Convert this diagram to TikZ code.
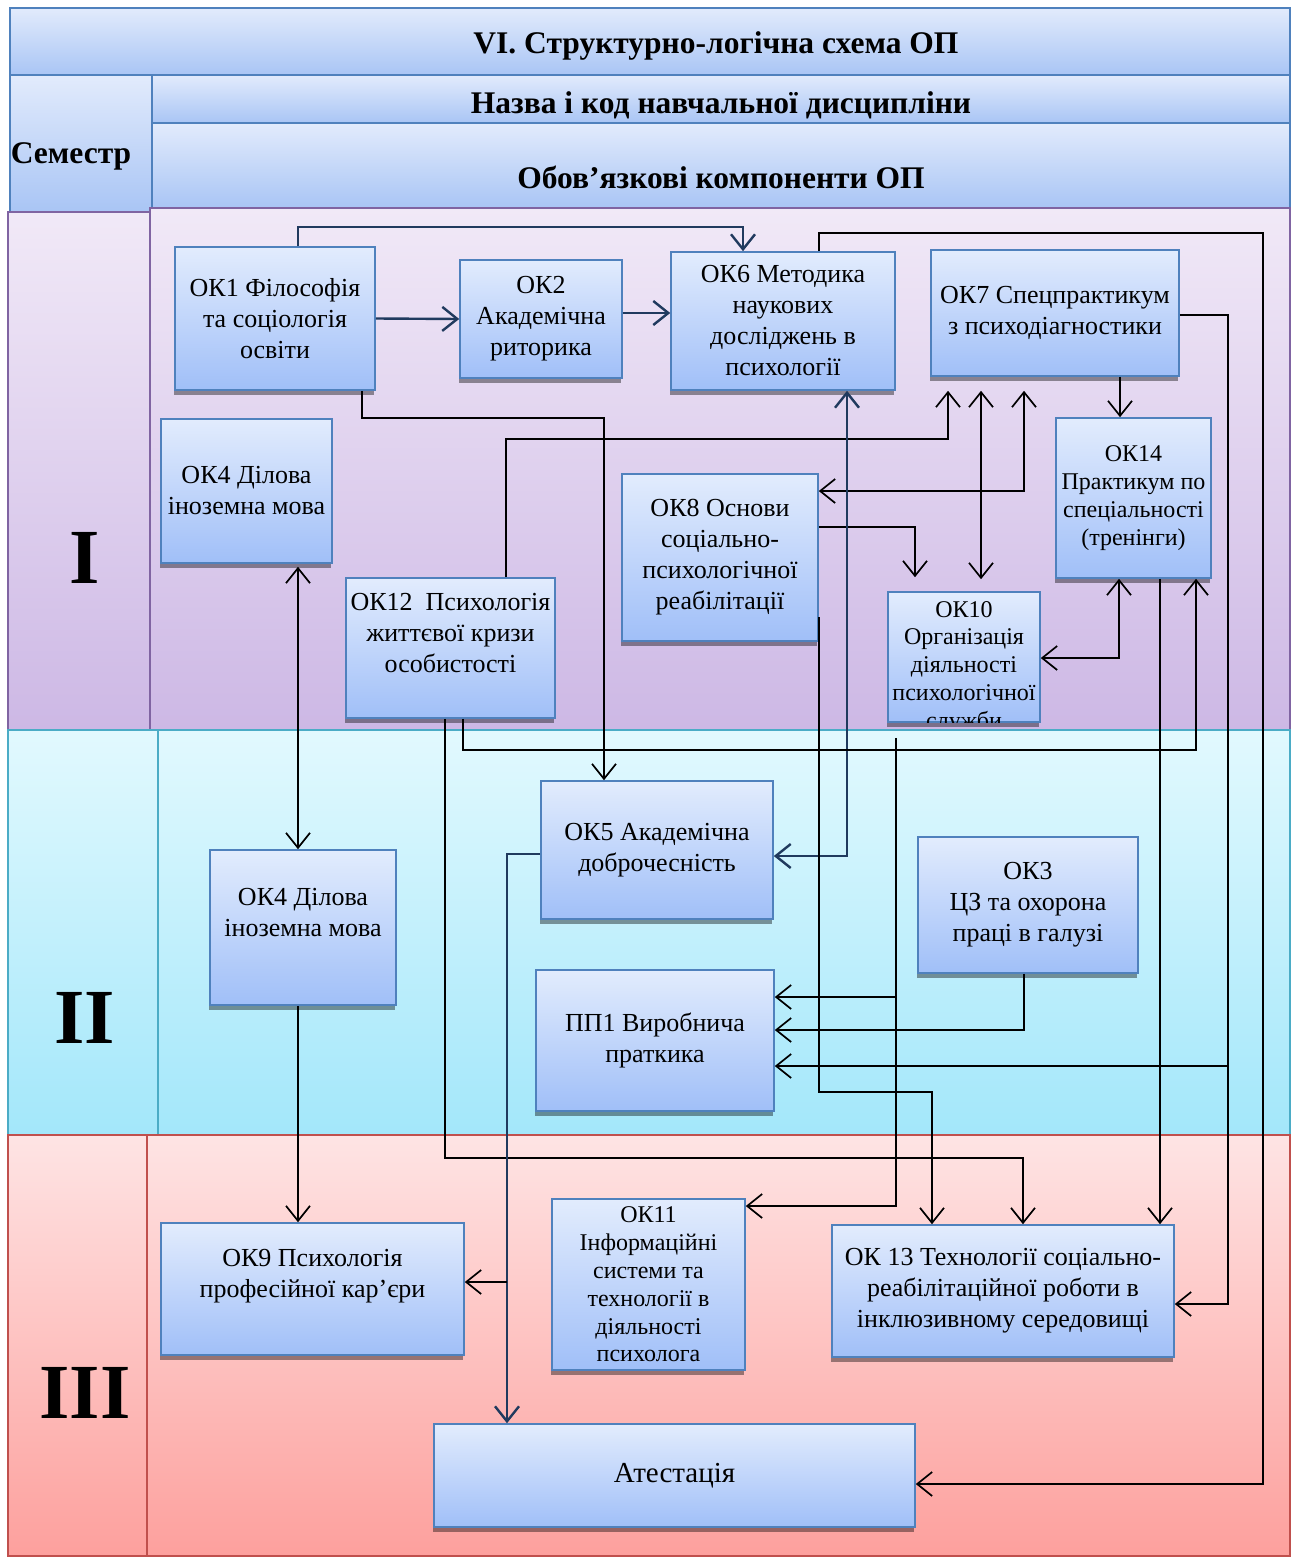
\documentclass[tikz,border=0pt]{standalone}
\usepackage{fontspec}
\setmainfont{Liberation Serif}
\usetikzlibrary{arrows.meta,shadows}
\definecolor{boxtop}{HTML}{E2ECFD}
\definecolor{boxbot}{HTML}{A0BFF8}
\definecolor{boxedge}{HTML}{4F81BD}
\definecolor{hdrtop}{HTML}{E2EBFC}
\definecolor{hdrbot}{HTML}{A9C5F5}
\definecolor{ptop}{HTML}{F1E9F7}
\definecolor{pbot}{HTML}{CDB8E5}
\definecolor{pedge}{HTML}{8064A2}
\definecolor{ctop}{HTML}{E2F9FE}
\definecolor{cbot}{HTML}{A3E7FA}
\definecolor{cedge}{HTML}{4BACC6}
\definecolor{rtop}{HTML}{FEE4E4}
\definecolor{rbot}{HTML}{FDA09D}
\definecolor{redge}{HTML}{C0504D}
\definecolor{navy}{HTML}{203A5E}
\newcommand\bx[6]{\node[box,minimum width=#4pt,minimum height=#5pt] (#1) at (#2,#3) {#6};}
\newcommand\sbx[6]{\node[box,smallfont,minimum width=#4pt,minimum height=#5pt] (#1) at (#2,#3) {#6};}
\begin{document}
\begin{tikzpicture}[x=1pt,y=-1pt,
  box/.style={draw=boxedge, line width=1.6pt, top color=boxtop, bottom color=boxbot,
    align=center, inner sep=2pt, font=\fontsize{26}{31}\selectfont,
    drop shadow={shadow xshift=-1pt, shadow yshift=-5pt, fill=black, opacity=0.4}},
  smallfont/.style={font=\fontsize{24}{27.8}\selectfont},
  hdrband/.style={draw=boxedge, line width=1.5pt, top color=hdrtop, bottom color=hdrbot},
  bandI/.style={draw=pedge, line width=1.5pt, top color=ptop, bottom color=pbot},
  bandII/.style={draw=cedge, line width=1.5pt, top color=ctop, bottom color=cbot},
  bandIII/.style={draw=redge, line width=1.5pt, top color=rtop, bottom color=rbot},
  hdr/.style={font=\bfseries\fontsize{31.5}{34}\selectfont, inner sep=0pt},
  roman/.style={font=\bfseries\fontsize{78}{80}\selectfont, inner sep=0pt},
  nv/.style={draw=navy, line width=2.4pt},
  bk/.style={draw=black, line width=1.7pt},
  arr/.style={-{Straight Barb[length=15pt,width=24pt]}},
  arrs/.style={{Straight Barb[length=15pt,width=24pt]}-{Straight Barb[length=15pt,width=24pt]}}
]
\useasboundingbox (0,0) rectangle (1298,1557);
% bands
\path[hdrband] (10,8) rectangle (1290,75);
\path[hdrband] (10,75) rectangle (152,212);
\path[hdrband] (152,75) rectangle (1290,123);
\path[hdrband] (152,123) rectangle (1290,208);
\path[bandI] (8,212) rectangle (150,730);
\path[bandI] (150,208) rectangle (1290,730);
\path[bandII] (8,730) rectangle (158,1135);
\path[bandII] (158,730) rectangle (1290,1135);
\path[bandIII] (8,1135) rectangle (147,1556);
\path[bandIII] (147,1135) rectangle (1290,1556);
% header texts
\node[hdr] (title) at (716,46) {VI. Структурно-логічна схема ОП};
\node[hdr] (sem) at (71,156) {Семестр};
\node[hdr] (nazva) at (721,105) {Назва і код навчальної дисципліни};
\node[hdr] (obov) at (721,177) {Обов’язкові компоненти ОП};
\node[roman] (s1) at (85,558) {I};
\node[roman] (s2) at (85,1018) {II};
\node[roman] (s3) at (85,1393) {III};
% boxes
\bx{ok1}{275}{318.5}{200}{143}{ОК1 Філософія\\та соціологія\\освіти}
\bx{ok2}{541}{319}{162}{118}{ОК2\\Академічна\\риторика}
\bx{ok6}{783}{321}{224}{138}{ОК6 Методика\\наукових\\досліджень в\\психології}
\bx{ok7}{1055}{313}{248}{126}{ОК7 Спецпрактикум\\з психодіагностики}
\bx{ok4a}{246.5}{491}{171}{144}{ОК4 Ділова\\іноземна мова}
\bx{ok12}{450.5}{648}{209}{140}{ОК12\ \ Психологія\\життєвої кризи\\особистості\\\mbox{}}
\bx{ok8}{720}{557.5}{196}{167}{ОК8 Основи\\соціально-\\психологічної\\реабілітації}
\sbx{ok14}{1133.5}{498}{155}{160}{ОК14\\Практикум по\\спеціальності\\(тренінги)}
\sbx{ok10}{964}{657}{152}{130}{}
\begin{scope}
\clip (ok10.south west) rectangle (ok10.north east);
\node[smallfont, align=center, inner sep=0pt, anchor=north] (ok10t) at (964,601) {ОК10\\Організація\\діяльності\\психологічної\\служби};
\end{scope}
\bx{ok5}{657}{850}{232}{138}{ОК5 Академічна\\доброчесність}
\bx{ok3}{1028}{905}{220}{136}{ОК3\\ЦЗ та охорона\\праці в галузі}
\bx{ok4b}{303}{927.5}{186}{155}{ОК4 Ділова\\іноземна мова\\\mbox{}}
\bx{pp1}{655}{1040.5}{238}{141}{ПП1 Виробнича\\праткика}
\bx{ok9}{312.5}{1289}{303}{132}{ОК9 Психологія\\професійної кар’єри\\\mbox{}}
\sbx{ok11}{648.5}{1284.5}{193}{171}{ОК11\\Інформаційні\\системи та\\технології в\\діяльності\\психолога}
\bx{ok13}{1003}{1291}{342}{132}{ОК 13 Технології соціально-\\реабілітаційної роботи в\\інклюзивному середовищі}
\node[box,minimum width=481pt,minimum height=103pt,font=\fontsize{29}{34}\selectfont] (att) at (674.5,1475.5) {Атестація};
% junctions
\coordinate (j1) at (1228,1066);
\coordinate (j2) at (896,997);
\coordinate (j3) at (507,1282);
% connectors
\draw[nv,arr] (ok1.east) -- (ok2.west);
\draw[nv,arr] ([yshift=6pt]ok2.east) -- ([yshift=8pt]ok6.west);
\draw[nv,arr] ([xshift=23pt]ok1.north) -- ++(0,-19) -| ([xshift=-40pt]ok6.north);
\draw[bk,arr] ([xshift=36pt]ok6.north) |- (1263,233) |- ([yshift=-8.5pt]att.east);
\draw[bk,arr] ([yshift=-2pt]ok7.east) -| (1228,1304) -- ([yshift=-13pt]ok13.east);
\draw[bk,arr] (j1) -- ([yshift=-25.5pt]pp1.east);
\draw[bk,arr] ([xshift=65pt]ok7.south) -- ([xshift=-13.5pt]ok14.north);
\draw[bk,arr] ([xshift=87pt]ok1.south) |- (604,418) -- ([xshift=-53pt]ok5.north);
\draw[bk,arr] ([xshift=55.5pt]ok12.north) |- (948,439) -- ([xshift=-107pt,yshift=-14pt]ok7.south);
\draw[bk,arrs] ([xshift=-74pt,yshift=-14pt]ok7.south) -- ([xshift=17pt,yshift=12pt]ok10.north);
\draw[bk,arrs] ([xshift=-31pt,yshift=-14pt]ok7.south) |- ([yshift=66.5pt]ok8.east);
\draw[bk,arr] ([yshift=30.5pt]ok8.east) -| ([xshift=-49pt,yshift=14pt]ok10.north);
\draw[bk,arrs] ([yshift=-1pt]ok10.east) -| ([xshift=-14.5pt]ok14.south);
\draw[nv,arrs] ([xshift=64pt]ok6.south) |- ([yshift=-6pt]ok5.east);
\draw[bk,arrs] ([xshift=51.5pt,yshift=-3pt]ok4a.south) -- ([xshift=-5pt]ok4b.north);
\draw[bk,arr] ([xshift=-5pt]ok4b.south) -- ([xshift=-14.5pt]ok9.north);
\draw[bk,arr] ([xshift=-5.5pt]ok12.south) |- (1023,1158) -- ([xshift=20pt]ok13.north);
\draw[bk,arr] ([xshift=12.5pt]ok12.south) |- (1196,750) -- ([xshift=62.5pt]ok14.south);
\draw[bk,arr] ([yshift=-59.5pt]ok8.east) |- (932,1092) -- ([xshift=-71pt]ok13.north);
\draw[bk,arr] ([xshift=-68pt,yshift=-15pt]ok10.south) |- ([yshift=78.5pt]ok11.east);
\draw[bk,arr] (j2) -- ([yshift=43.5pt]pp1.east);
\draw[bk,arr] ([xshift=-4pt]ok3.south) |- ([yshift=10.5pt]pp1.east);
\draw[bk,arr] ([xshift=26.5pt]ok14.south) -- ([xshift=157pt]ok13.north);
\draw[nv,arr] ([yshift=-4pt]ok5.west) -| ([xshift=-167.5pt]att.north);
\draw[bk,arr] (j3) -- ([yshift=7pt]ok9.east);
\end{tikzpicture}
\end{document}
